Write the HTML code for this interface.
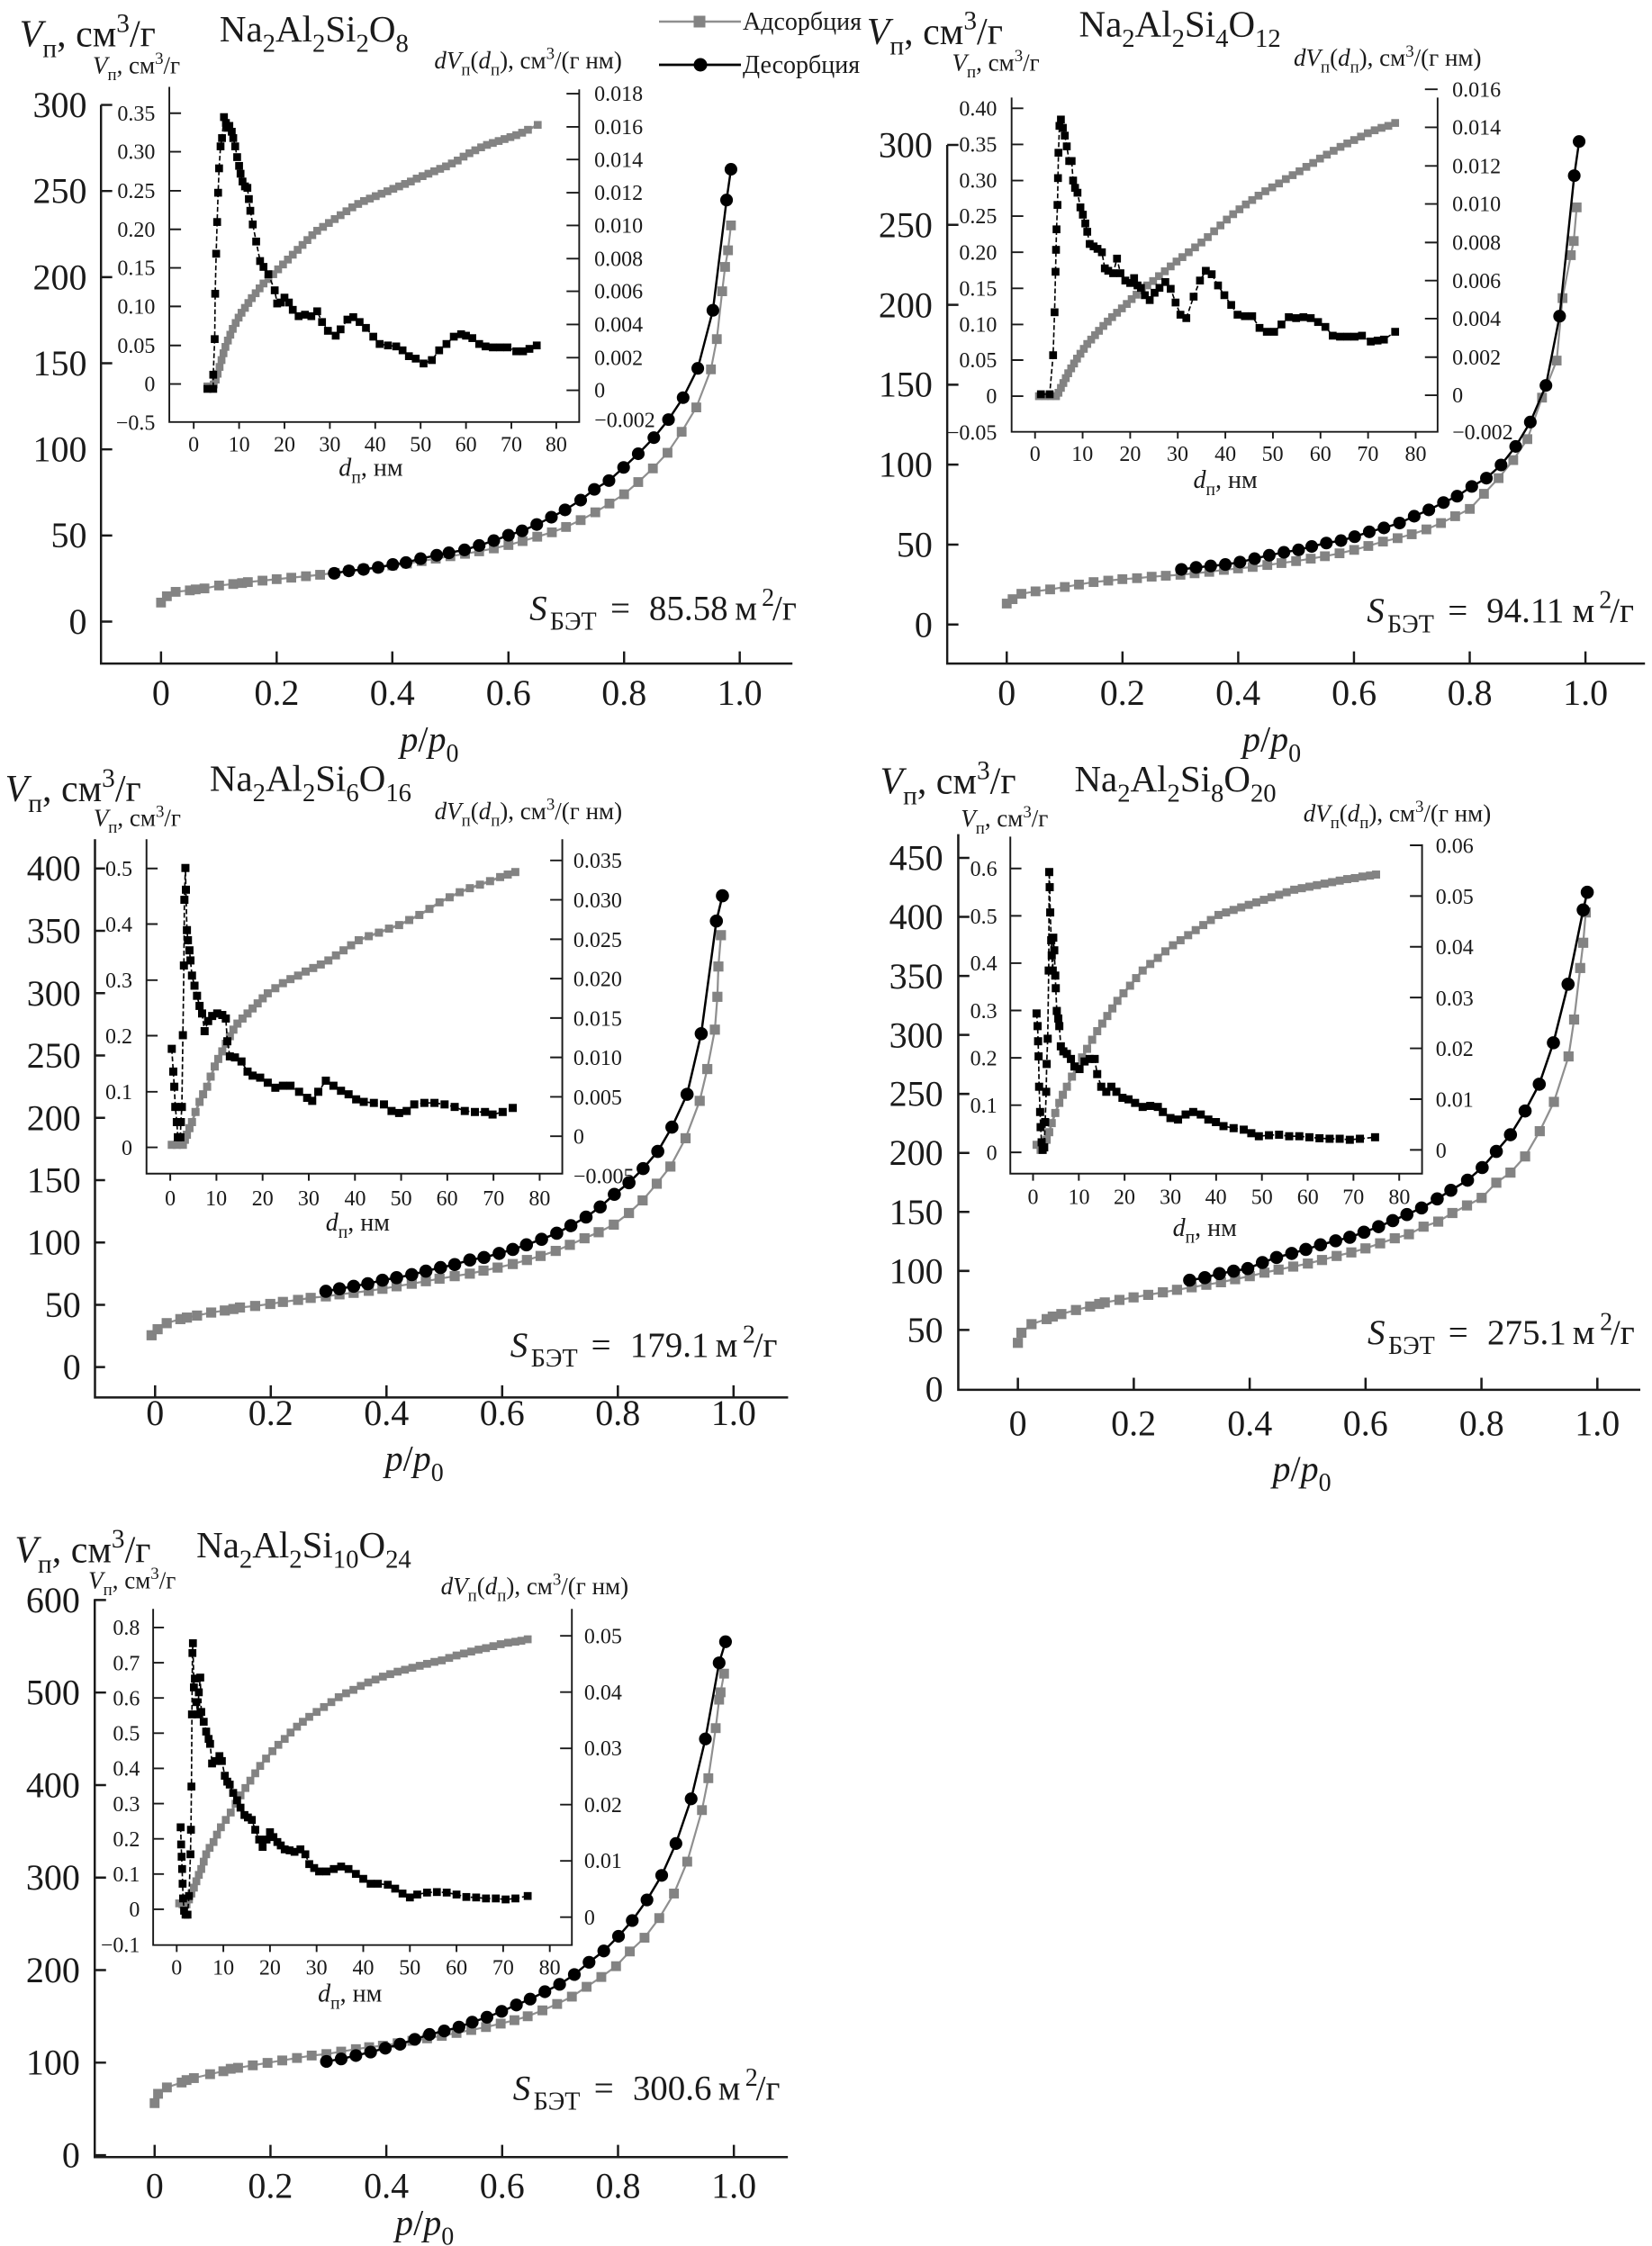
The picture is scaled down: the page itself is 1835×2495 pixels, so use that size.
<!DOCTYPE html>
<html><head><meta charset="utf-8"><style>
html,body{margin:0;padding:0;background:#fff;}
body{width:1835px;height:2495px;overflow:hidden;}
svg{display:block;font-family:"Liberation Serif","DejaVu Serif",serif;}
text,tspan{font-family:"Liberation Serif","DejaVu Serif",serif;}
.ax{fill:none;stroke:#1a1a1a;stroke-width:4.5;}
.iax{fill:none;stroke:#1a1a1a;stroke-width:3.5;}
.ga{fill:none;stroke:#8f8f8f;stroke-width:4;marker-start:url(#mg);marker-mid:url(#mg);marker-end:url(#mg);}
.bd{fill:none;stroke:#000;stroke-width:4.5;marker-start:url(#mb);marker-mid:url(#mb);marker-end:url(#mb);}
.ig{fill:none;stroke:#8f8f8f;stroke-width:5;marker-start:url(#gi);marker-mid:url(#gi);marker-end:url(#gi);}
.ib{fill:none;stroke:#000;stroke-width:3;stroke-dasharray:10 5;marker-start:url(#bi);marker-mid:url(#bi);marker-end:url(#bi);}
text{fill:#1a1a1a;}
.e{text-anchor:end;}
.m{text-anchor:middle;}
.i{font-style:italic;}
</style></head><body>
<svg width="1835" height="2495" viewBox="0 0 1835 2495" xmlns="http://www.w3.org/2000/svg" font-family="Liberation Serif, DejaVu Serif, serif">
<defs>
<marker id="mg" markerUnits="userSpaceOnUse" markerWidth="20" markerHeight="20" refX="10" refY="10" overflow="visible"><rect x="0" y="0" width="20" height="20" fill="#838383"/></marker>
<marker id="mb" markerUnits="userSpaceOnUse" markerWidth="28" markerHeight="28" refX="14" refY="14" overflow="visible"><circle cx="14" cy="14" r="13" fill="#000"/></marker>
<marker id="gi" markerUnits="userSpaceOnUse" markerWidth="16" markerHeight="16" refX="8" refY="8" overflow="visible"><rect x="0" y="0" width="16" height="16" fill="#838383"/></marker>
<marker id="bi" markerUnits="userSpaceOnUse" markerWidth="16" markerHeight="16" refX="8" refY="8" overflow="visible"><rect x="0" y="0" width="16" height="16" fill="#000"/></marker>
</defs>

<!-- Legend -->
<line x1="732" y1="24" x2="823" y2="24" stroke="#8f8f8f" stroke-width="2.5"/>
<rect x="770.5" y="17.5" width="13" height="13" fill="#838383"/>
<text x="825" y="33" font-size="28">Адсорбция</text>
<line x1="732" y1="72" x2="823" y2="72" stroke="#000" stroke-width="2.8"/>
<circle cx="778" cy="72" r="7.5" fill="#000"/>
<text x="825" y="81" font-size="28">Десорбция</text>

<!-- ================= PANEL 1 ================= -->
<g transform="scale(0.54201)">
<text x="40" y="95" font-size="77.5"><tspan class="i">V</tspan><tspan font-size="70%" dy="0.4em">п</tspan><tspan dy="-0.28em">, см</tspan><tspan font-size="70%" dy="-0.55em">3</tspan><tspan dy="0.385em">/г</tspan></text>
<text x="450" y="85" font-size="75.6">Na<tspan font-size="70%" dy="0.4em">2</tspan><tspan dy="-0.28em">Al</tspan><tspan font-size="70%" dy="0.4em">2</tspan><tspan dy="-0.28em">Si</tspan><tspan font-size="70%" dy="0.4em">2</tspan><tspan dy="-0.28em">O</tspan><tspan font-size="70%" dy="0.4em">8</tspan></text>
<path class="ax" d="M207,215V1360H1624"/>
<path class="ax" d="M207,215h23M207,391.5h23M207,568h23M207,744.5h23M207,921h23M207,1097.5h23M207,1274h23M330,1360v-25M567,1360v-25M804,1360v-25M1042,1360v-25M1279,1360v-25M1516,1360v-25"/>
<g font-size="73.8" class="e"><text x="178" y="240">300</text><text x="178" y="416">250</text><text x="178" y="593">200</text><text x="178" y="769">150</text><text x="178" y="946">100</text><text x="178" y="1122">50</text><text x="178" y="1299">0</text></g>
<g font-size="73.8" class="m"><text x="330" y="1445">0</text><text x="567" y="1445">0.2</text><text x="804" y="1445">0.4</text><text x="1042" y="1445">0.6</text><text x="1279" y="1445">0.8</text><text x="1516" y="1445">1.0</text></g>
<text x="880" y="1540" font-size="73.8" class="m"><tspan class="i">p</tspan>/<tspan class="i">p</tspan><tspan font-size="70%" dy="0.4em">0</tspan></text>
<!-- inset -->
<path class="iax" d="M347,178V865H1187V183"/>
<path class="iax" d="M347,232h24M347,311h24M347,391h24M347,470h24M347,549h24M347,628h24M347,708h24M347,787h24M1161,192h26M1161,260h26M1161,327h26M1161,395h26M1161,462h26M1161,530h26M1161,597h26M1161,665h26M1161,733h26M1161,800h26M397,865v14M490,865v14M583,865v14M676,865v14M769,865v14M862,865v14M955,865v14M1048,865v14M1140,865v14"/>
<g font-size="44.3" class="e"><text x="318" y="247">0.35</text><text x="318" y="326">0.30</text><text x="318" y="406">0.25</text><text x="318" y="485">0.20</text><text x="318" y="564">0.15</text><text x="318" y="643">0.10</text><text x="318" y="723">0.05</text><text x="318" y="802">0</text><text x="318" y="881">−0.5</text></g>
<g font-size="44.3"><text x="1218" y="207">0.018</text><text x="1218" y="275">0.016</text><text x="1218" y="342">0.014</text><text x="1218" y="410">0.012</text><text x="1218" y="477">0.010</text><text x="1218" y="545">0.008</text><text x="1218" y="612">0.006</text><text x="1218" y="680">0.004</text><text x="1218" y="748">0.002</text><text x="1218" y="815">0</text><text x="1218" y="875">−0.002</text></g>
<g font-size="44.3" class="m"><text x="397" y="925">0</text><text x="490" y="925">10</text><text x="583" y="925">20</text><text x="676" y="925">30</text><text x="769" y="925">40</text><text x="862" y="925">50</text><text x="955" y="925">60</text><text x="1048" y="925">70</text><text x="1140" y="925">80</text></g>
<text x="760" y="975" font-size="51.7" class="m"><tspan class="i">d</tspan><tspan font-size="70%" dy="0.4em">п</tspan><tspan dy="-0.28em">, нм</tspan></text>
<text x="190" y="150" font-size="49.8"><tspan class="i">V</tspan><tspan font-size="70%" dy="0.4em">п</tspan><tspan dy="-0.28em">, см</tspan><tspan font-size="70%" dy="-0.55em">3</tspan><tspan dy="0.385em">/г</tspan></text>
<text x="890" y="140" font-size="49.8"><tspan class="i">dV</tspan><tspan font-size="70%" dy="0.4em">п</tspan><tspan dy="-0.28em">(</tspan><tspan class="i">d</tspan><tspan font-size="70%" dy="0.4em">п</tspan><tspan dy="-0.28em">), см</tspan><tspan font-size="70%" dy="-0.55em">3</tspan><tspan dy="0.385em">/(г нм)</tspan></text>
<polyline class="ig" points="425,792 432,792 438,788 442,778 446,766 450,752 454,738 458,724 462,711 467,698 472,686 477,674 483,662 489,651 495,641 502,631 509,621 516,611 524,601 532,591 540,581 550,572 560,562 570,552 580,542 590,532 600,522 610,512 620,502 630,492 640,482 650,473 662,465 674,457 686,449 698,441 710,433 722,425 734,418 746,412 758,407 770,402 782,397 794,392 806,387 818,382 830,377 842,372 854,366 866,361 878,356 890,351 902,346 914,341 926,335 938,329 950,321 962,314 974,308 986,302 998,297 1010,293 1022,289 1034,285 1046,281 1058,277 1070,272 1082,266 1102,256"/>
<polyline class="ib" points="425,797 437,797 437,768 440,695 441,602 443,520 445,455 447,395 449,345 452,300 455,283 459,240 463,252 466,262 470,258 475,270 478,283 482,300 486,322 490,340 493,356 497,372 502,382 507,385 510,408 513,432 518,460 525,495 533,535 540,547 550,562 563,595 568,622 575,620 583,610 592,620 600,635 612,648 625,645 638,648 650,638 660,660 672,678 688,688 698,675 712,655 724,650 737,660 750,672 765,690 778,705 795,708 812,710 825,718 838,730 852,735 868,745 885,738 900,718 915,705 930,690 945,685 955,688 968,693 982,705 995,710 1010,712 1025,712 1040,712 1058,720 1072,720 1085,715 1100,708"/>
<!-- main data -->
<polyline class="ga" points="330,1235 342,1222 360,1213 389,1210 401,1208 419,1206 449,1200 478,1197 496,1195 508,1193 538,1190 567,1187 597,1184 627,1181 656,1178 686,1174 715,1170 745,1166 775,1163 804,1159 834,1155 864,1150 893,1145 923,1140 953,1135 982,1130 1012,1124 1042,1117 1071,1109 1101,1100 1131,1091 1160,1080 1190,1066 1220,1050 1249,1032 1279,1013 1308,988 1338,960 1368,928 1397,885 1427,835 1457,757 1469,695 1480,597 1486,547 1492,513 1498,462"/>
<polyline class="bd" points="1498,347 1489,410 1461,636 1430,755 1400,815 1370,860 1340,897 1308,930 1278,958 1248,985 1218,1003 1190,1025 1158,1045 1130,1060 1100,1075 1070,1088 1042,1097 1012,1108 982,1118 952,1127 920,1133 895,1138 862,1145 832,1153 805,1157 775,1163 745,1167 715,1170 685,1175"/>
<text x="1085" y="1270" font-size="72"><tspan class="i">S</tspan><tspan x="1127" font-size="72%" dy="0.4em">БЭТ</tspan><tspan x="1251" dy="-0.29em">=</tspan><tspan x="1330">85.58</tspan><tspan x="1506">м</tspan><tspan x="1561" font-size="72%" dy="-0.55em">2</tspan><tspan x="1583" dy="0.4em">/г</tspan></text>
</g>

<!-- ================= PANEL 2 ================= -->
<g transform="translate(960,0) scale(0.54201)">
<text x="5" y="90" font-size="77.5"><tspan class="i">V</tspan><tspan font-size="70%" dy="0.4em">п</tspan><tspan dy="-0.28em">, см</tspan><tspan font-size="70%" dy="-0.55em">3</tspan><tspan dy="0.385em">/г</tspan></text>
<text x="440" y="75" font-size="75.6">Na<tspan font-size="70%" dy="0.4em">2</tspan><tspan dy="-0.28em">Al</tspan><tspan font-size="70%" dy="0.4em">2</tspan><tspan dy="-0.28em">Si</tspan><tspan font-size="70%" dy="0.4em">4</tspan><tspan dy="-0.28em">O</tspan><tspan font-size="70%" dy="0.4em">12</tspan></text>
<path class="ax" d="M170,297V1360H1600"/>
<path class="ax" d="M170,297h23M170,460.8h23M170,624.7h23M170,788.5h23M170,952.3h23M170,1116.2h23M170,1280h23M292,1360v-25M529.2,1360v-25M766.4,1360v-25M1003.6,1360v-25M1240.8,1360v-25M1478,1360v-25"/>
<g font-size="73.8" class="e"><text x="140" y="322">300</text><text x="140" y="486">250</text><text x="140" y="650">200</text><text x="140" y="813">150</text><text x="140" y="977">100</text><text x="140" y="1141">50</text><text x="140" y="1305">0</text></g>
<g font-size="73.8" class="m"><text x="292" y="1445">0</text><text x="529" y="1445">0.2</text><text x="766" y="1445">0.4</text><text x="1004" y="1445">0.6</text><text x="1241" y="1445">0.8</text><text x="1478" y="1445">1.0</text></g>
<text x="835" y="1540" font-size="73.8" class="m"><tspan class="i">p</tspan>/<tspan class="i">p</tspan><tspan font-size="70%" dy="0.4em">0</tspan></text>
<path class="iax" d="M302,200V885H1175V200"/>
<path class="iax" d="M302,222h24M302,296h24M302,370h24M302,443h24M302,517h24M302,591h24M302,665h24M302,738h24M302,812h24M1149,183h26M1149,261h26M1149,340h26M1149,418h26M1149,497h26M1149,575h26M1149,653h26M1149,732h26M1149,810h26M350,885v14M447.5,885v14M545,885v14M642.5,885v14M740,885v14M837.5,885v14M935,885v14M1032.5,885v14M1130,885v14"/>
<g font-size="44.3" class="e"><text x="272" y="237">0.40</text><text x="272" y="311">0.35</text><text x="272" y="385">0.30</text><text x="272" y="458">0.25</text><text x="272" y="532">0.20</text><text x="272" y="606">0.15</text><text x="272" y="680">0.10</text><text x="272" y="753">0.05</text><text x="272" y="827">0</text><text x="272" y="901">−0.05</text></g>
<g font-size="44.3"><text x="1205" y="198">0.016</text><text x="1205" y="276">0.014</text><text x="1205" y="355">0.012</text><text x="1205" y="433">0.010</text><text x="1205" y="512">0.008</text><text x="1205" y="590">0.006</text><text x="1205" y="668">0.004</text><text x="1205" y="747">0.002</text><text x="1205" y="825">0</text><text x="1205" y="900">−0.002</text></g>
<g font-size="44.3" class="m"><text x="350" y="945">0</text><text x="447" y="945">10</text><text x="545" y="945">20</text><text x="642" y="945">30</text><text x="740" y="945">40</text><text x="837" y="945">50</text><text x="935" y="945">60</text><text x="1032" y="945">70</text><text x="1130" y="945">80</text></g>
<text x="740" y="1000" font-size="51.7" class="m"><tspan class="i">d</tspan><tspan font-size="70%" dy="0.4em">п</tspan><tspan dy="-0.28em">, нм</tspan></text>
<text x="180" y="145" font-size="49.8"><tspan class="i">V</tspan><tspan font-size="70%" dy="0.4em">п</tspan><tspan dy="-0.28em">, см</tspan><tspan font-size="70%" dy="-0.55em">3</tspan><tspan dy="0.385em">/г</tspan></text>
<text x="880" y="135" font-size="49.8"><tspan class="i">dV</tspan><tspan font-size="70%" dy="0.4em">п</tspan><tspan dy="-0.28em">(</tspan><tspan class="i">d</tspan><tspan font-size="70%" dy="0.4em">п</tspan><tspan dy="-0.28em">), см</tspan><tspan font-size="70%" dy="-0.55em">3</tspan><tspan dy="0.385em">/(г нм)</tspan></text>
<polyline class="ig" points="358,812 370,812 382,812 393,812 398,805 403,795 408,785 413,775 418,765 424,755 430,745 436,735 443,725 450,715 457,705 465,696 473,687 481,678 490,668 499,659 508,650 518,641 528,632 538,623 548,613 558,604 569,595 580,585 592,576 604,566 616,556 628,546 640,536 652,527 665,517 678,507 691,497 704,486 717,474 730,462 743,450 756,439 769,429 782,419 795,410 808,401 822,392 836,384 850,376 864,367 878,359 892,351 906,342 920,334 934,325 948,317 962,309 976,301 990,294 1004,287 1018,280 1032,273 1046,267 1060,262 1074,258 1088,252"/>
<polyline class="ib" points="362,808 380,808 387,728 390,640 392,557 393,512 394,470 396,420 397,365 398,313 400,258 403,245 407,262 411,278 415,300 420,330 425,330 428,370 432,385 437,395 443,425 448,440 453,458 457,475 462,500 470,505 478,510 487,517 493,550 500,555 510,560 518,530 525,560 535,575 545,580 553,570 560,585 567,590 575,605 585,615 595,600 605,590 617,578 628,592 638,620 648,645 660,652 675,608 688,575 700,555 712,562 725,585 738,605 752,625 765,645 780,648 795,648 810,672 825,680 840,680 855,665 870,650 885,652 900,650 915,652 930,660 945,670 960,688 975,690 990,690 1005,690 1020,688 1038,700 1052,698 1065,696 1088,680"/>
<polyline class="ga" points="292,1237 304,1228 322,1217 351,1212 381,1208 411,1203 440,1198 470,1193 500,1190 529,1187 559,1185 589,1182 618,1180 648,1178 677,1175 707,1172 737,1168 766,1165 796,1162 826,1158 855,1154 885,1150 915,1145 944,1140 974,1134 1004,1127 1033,1119 1063,1110 1093,1103 1122,1095 1152,1085 1182,1072 1211,1058 1241,1043 1270,1012 1300,980 1330,943 1359,900 1389,815 1419,739 1431,611 1448,523 1454,494 1460,425"/>
<polyline class="bd" points="1465,290 1455,360 1425,648 1397,790 1365,865 1335,915 1305,953 1275,980 1245,997 1215,1017 1187,1030 1157,1045 1127,1058 1097,1072 1065,1082 1035,1090 1005,1100 977,1108 947,1113 917,1120 890,1127 860,1132 830,1138 800,1145 770,1152 740,1157 710,1160 680,1163 650,1167"/>
<text x="1030" y="1275" font-size="72"><tspan class="i">S</tspan><tspan x="1072" font-size="72%" dy="0.4em">БЭТ</tspan><tspan x="1196" dy="-0.29em">=</tspan><tspan x="1275">94.11</tspan><tspan x="1451">м</tspan><tspan x="1506" font-size="72%" dy="-0.55em">2</tspan><tspan x="1528" dy="0.4em">/г</tspan></text>
</g>

<!-- ================= PANEL 3 ================= -->
<g transform="translate(0,820) scale(0.56117)">
<text x="10" y="125" font-size="74.8"><tspan class="i">V</tspan><tspan font-size="70%" dy="0.4em">п</tspan><tspan dy="-0.28em">, см</tspan><tspan font-size="70%" dy="-0.55em">3</tspan><tspan dy="0.385em">/г</tspan></text>
<text x="415" y="104" font-size="73">Na<tspan font-size="70%" dy="0.4em">2</tspan><tspan dy="-0.28em">Al</tspan><tspan font-size="70%" dy="0.4em">2</tspan><tspan dy="-0.28em">Si</tspan><tspan font-size="70%" dy="0.4em">6</tspan><tspan dy="-0.28em">O</tspan><tspan font-size="70%" dy="0.4em">16</tspan></text>
<path class="ax" d="M188,200V1305H1560"/>
<path class="ax" d="M188,258h20M188,381.4h20M188,504.8h20M188,628.2h20M188,751.6h20M188,875h20M188,998.4h20M188,1121.8h20M188,1245h20M307,1305v-24M536,1305v-24M765,1305v-24M994,1305v-24M1223,1305v-24M1452,1305v-24"/>
<g font-size="71.3" class="e"><text x="160" y="282">400</text><text x="160" y="405">350</text><text x="160" y="529">300</text><text x="160" y="652">250</text><text x="160" y="776">200</text><text x="160" y="899">150</text><text x="160" y="1022">100</text><text x="160" y="1146">50</text><text x="160" y="1269">0</text></g>
<g font-size="71.3" class="m"><text x="307" y="1360">0</text><text x="536" y="1360">0.2</text><text x="765" y="1360">0.4</text><text x="994" y="1360">0.6</text><text x="1223" y="1360">0.8</text><text x="1452" y="1360">1.0</text></g>
<text x="820" y="1450" font-size="71.3" class="m"><tspan class="i">p</tspan>/<tspan class="i">p</tspan><tspan font-size="70%" dy="0.4em">0</tspan></text>
<path class="iax" d="M290,200V862H1113V200"/>
<path class="iax" d="M290,258h22M290,368h22M290,479h22M290,589h22M290,700h22M290,810h22M1089,242h24M1089,320h24M1089,398h24M1089,476h24M1089,554h24M1089,632h24M1089,710h24M1089,788h24M337,862v14M428.4,862v14M519.8,862v14M611.2,862v14M702.6,862v14M794,862v14M885.4,862v14M976.8,862v14M1068.2,862v14"/>
<g font-size="42.8" class="e"><text x="262" y="273">0.5</text><text x="262" y="383">0.4</text><text x="262" y="494">0.3</text><text x="262" y="604">0.2</text><text x="262" y="715">0.1</text><text x="262" y="825">0</text></g>
<g font-size="42.8"><text x="1135" y="257">0.035</text><text x="1135" y="335">0.030</text><text x="1135" y="413">0.025</text><text x="1135" y="491">0.020</text><text x="1135" y="569">0.015</text><text x="1135" y="647">0.010</text><text x="1135" y="725">0.005</text><text x="1135" y="803">0</text><text x="1135" y="881">−0.005</text></g>
<g font-size="42.8" class="m"><text x="337" y="925">0</text><text x="428" y="925">10</text><text x="520" y="925">20</text><text x="611" y="925">30</text><text x="703" y="925">40</text><text x="794" y="925">50</text><text x="885" y="925">60</text><text x="977" y="925">70</text><text x="1068" y="925">80</text></g>
<text x="708" y="975" font-size="49.9" class="m"><tspan class="i">d</tspan><tspan font-size="70%" dy="0.4em">п</tspan><tspan dy="-0.28em">, нм</tspan></text>
<text x="185" y="174" font-size="48.1"><tspan class="i">V</tspan><tspan font-size="70%" dy="0.4em">п</tspan><tspan dy="-0.28em">, см</tspan><tspan font-size="70%" dy="-0.55em">3</tspan><tspan dy="0.385em">/г</tspan></text>
<text x="860" y="160" font-size="48.1"><tspan class="i">dV</tspan><tspan font-size="70%" dy="0.4em">п</tspan><tspan dy="-0.28em">(</tspan><tspan class="i">d</tspan><tspan font-size="70%" dy="0.4em">п</tspan><tspan dy="-0.28em">), см</tspan><tspan font-size="70%" dy="-0.55em">3</tspan><tspan dy="0.385em">/(г нм)</tspan></text>
<polyline class="ig" points="340,805 350,805 362,805 366,795 370,785 375,772 380,760 387,740 395,720 402,705 410,690 417,670 425,650 432,635 440,620 447,605 455,590 462,577 470,565 480,555 490,545 500,535 510,525 520,515 530,505 545,495 560,485 575,477 590,470 605,462 620,455 635,448 650,440 665,430 680,420 695,410 710,400 730,392 750,385 770,377 790,370 810,360 830,350 850,338 870,325 890,315 910,305 930,297 950,290 970,283 990,275 1005,270 1020,265"/>
<polyline class="ib" points="340,615 343,660 345,690 347,730 350,760 352,790 357,790 358,760 360,730 362,588 364,450 365,320 367,257 368,300 370,380 372,400 375,420 377,440 380,470 385,490 390,510 395,530 400,545 405,580 412,560 420,550 430,545 440,548 447,555 450,600 455,630 465,632 478,640 490,660 500,668 515,672 530,682 545,692 560,688 575,688 592,700 608,712 618,718 630,700 645,678 660,688 675,698 690,705 705,715 720,720 740,722 760,725 775,738 790,742 805,738 820,725 840,722 860,722 880,725 900,730 920,738 940,740 960,740 975,745 995,740 1015,732"/>
<polyline class="ga" points="300,1182 312,1170 330,1158 357,1150 370,1147 390,1143 418,1137 445,1133 462,1130 475,1127 505,1124 535,1120 560,1116 590,1112 615,1108 645,1105 672,1101 700,1098 730,1094 757,1090 785,1085 815,1080 843,1075 870,1070 900,1065 930,1060 957,1054 985,1048 1015,1041 1043,1033 1070,1025 1100,1015 1128,1003 1157,990 1185,978 1215,963 1245,940 1272,915 1300,882 1327,848 1357,792 1385,718 1400,655 1415,577 1420,512 1422,452 1427,390"/>
<polyline class="bd" points="1430,312 1418,362 1388,585 1360,705 1330,770 1302,818 1273,852 1245,880 1216,903 1188,928 1160,948 1130,965 1102,980 1072,992 1042,1003 1015,1012 988,1020 958,1028 930,1033 900,1042 872,1048 843,1055 815,1062 785,1068 757,1073 728,1080 700,1085 672,1090 645,1095"/>
<text x="1010" y="1224" font-size="69.5"><tspan class="i">S</tspan><tspan x="1051" font-size="72%" dy="0.4em">БЭТ</tspan><tspan x="1170" dy="-0.29em">=</tspan><tspan x="1247">179.1</tspan><tspan x="1416">м</tspan><tspan x="1470" font-size="72%" dy="-0.55em">2</tspan><tspan x="1491" dy="0.4em">/г</tspan></text>
</g>

<!-- ================= PANEL 4 ================= -->
<g transform="translate(955,820) scale(0.56117)">
<text x="40" y="110" font-size="74.8"><tspan class="i">V</tspan><tspan font-size="70%" dy="0.4em">п</tspan><tspan dy="-0.28em">, см</tspan><tspan font-size="70%" dy="-0.55em">3</tspan><tspan dy="0.385em">/г</tspan></text>
<text x="425" y="105" font-size="73">Na<tspan font-size="70%" dy="0.4em">2</tspan><tspan dy="-0.28em">Al</tspan><tspan font-size="70%" dy="0.4em">2</tspan><tspan dy="-0.28em">Si</tspan><tspan font-size="70%" dy="0.4em">8</tspan><tspan dy="-0.28em">O</tspan><tspan font-size="70%" dy="0.4em">20</tspan></text>
<path class="ax" d="M195,190V1290H1545"/>
<path class="ax" d="M195,237h22M195,353.8h22M195,470.6h22M195,587.4h22M195,704.2h22M195,821h22M195,937.8h22M195,1054.6h22M195,1171.4h22M313,1290v-24M542.4,1290v-24M771.8,1290v-24M1001.2,1290v-24M1230.6,1290v-24M1460,1290v-24"/>
<g font-size="71.3" class="e"><text x="165" y="261">450</text><text x="165" y="378">400</text><text x="165" y="495">350</text><text x="165" y="612">300</text><text x="165" y="728">250</text><text x="165" y="845">200</text><text x="165" y="962">150</text><text x="165" y="1079">100</text><text x="165" y="1196">50</text><text x="165" y="1312">0</text></g>
<g font-size="71.3" class="m"><text x="313" y="1380">0</text><text x="542" y="1380">0.2</text><text x="772" y="1380">0.4</text><text x="1001" y="1380">0.6</text><text x="1231" y="1380">0.8</text><text x="1460" y="1380">1.0</text></g>
<text x="875" y="1470" font-size="71.3" class="m"><tspan class="i">p</tspan>/<tspan class="i">p</tspan><tspan font-size="70%" dy="0.4em">0</tspan></text>
<path class="iax" d="M298,195V862H1113V210"/>
<path class="iax" d="M298,258h22M298,351.7h22M298,445.4h22M298,539h22M298,632.8h22M298,726.5h22M298,820h22M1089,212h24M1089,312.5h24M1089,413h24M1089,513.5h24M1089,614h24M1089,714.5h24M1089,815h24M343,862v14M433.6,862v14M524.2,862v14M614.8,862v14M705.4,862v14M796,862v14M886.6,862v14M977.2,862v14M1067.8,862v14"/>
<g font-size="42.8" class="e"><text x="272" y="273">0.6</text><text x="272" y="367">0.5</text><text x="272" y="460">0.4</text><text x="272" y="554">0.3</text><text x="272" y="648">0.2</text><text x="272" y="741">0.1</text><text x="272" y="835">0</text></g>
<g font-size="42.8"><text x="1140" y="227">0.06</text><text x="1140" y="328">0.05</text><text x="1140" y="428">0.04</text><text x="1140" y="529">0.03</text><text x="1140" y="629">0.02</text><text x="1140" y="730">0.01</text><text x="1140" y="830">0</text></g>
<g font-size="42.8" class="m"><text x="343" y="922">0</text><text x="434" y="922">10</text><text x="524" y="922">20</text><text x="615" y="922">30</text><text x="705" y="922">40</text><text x="796" y="922">50</text><text x="887" y="922">60</text><text x="977" y="922">70</text><text x="1068" y="922">80</text></g>
<text x="683" y="985" font-size="49.9" class="m"><tspan class="i">d</tspan><tspan font-size="70%" dy="0.4em">п</tspan><tspan dy="-0.28em">, нм</tspan></text>
<text x="200" y="175" font-size="48.1"><tspan class="i">V</tspan><tspan font-size="70%" dy="0.4em">п</tspan><tspan dy="-0.28em">, см</tspan><tspan font-size="70%" dy="-0.55em">3</tspan><tspan dy="0.385em">/г</tspan></text>
<text x="878" y="165" font-size="48.1"><tspan class="i">dV</tspan><tspan font-size="70%" dy="0.4em">п</tspan><tspan dy="-0.28em">(</tspan><tspan class="i">d</tspan><tspan font-size="70%" dy="0.4em">п</tspan><tspan dy="-0.28em">), см</tspan><tspan font-size="70%" dy="-0.55em">3</tspan><tspan dy="0.385em">/(г нм)</tspan></text>
<polyline class="ig" points="350,805 358,815 365,810 370,795 375,780 380,762 387,742 395,722 402,706 410,690 420,670 430,650 440,632 450,615 460,597 470,580 480,565 490,550 500,535 510,520 522,505 535,490 547,475 560,460 575,447 590,435 605,422 620,410 635,400 650,390 665,380 680,370 695,360 710,350 725,345 740,340 755,335 770,330 785,325 800,320 815,315 830,310 845,305 860,300 875,297 890,294 905,291 920,288 935,285 950,282 965,279 980,277 995,274 1010,272 1022,270"/>
<polyline class="ib" points="350,545 352,570 353,600 354,630 355,690 357,740 358,770 360,800 362,815 365,810 367,760 369,700 370,645 372,595 374,460 375,265 376,295 377,345 379,400 380,430 382,460 383,395 385,420 387,470 388,495 390,540 393,555 395,570 398,610 403,620 410,625 418,635 425,650 435,655 445,640 455,635 465,635 470,665 478,690 488,700 498,690 508,700 520,712 532,715 545,722 560,730 575,728 590,730 600,740 615,752 630,755 645,745 660,740 675,745 690,755 705,760 720,768 740,772 760,775 775,782 790,788 810,786 830,785 850,788 870,788 890,790 910,792 930,793 950,793 970,795 990,793 1020,790"/>
<polyline class="ga" points="313,1197 320,1177 340,1160 370,1150 382,1145 399,1140 428,1132 456,1125 474,1120 485,1117 514,1112 542,1107 571,1102 600,1097 628,1092 657,1087 686,1082 715,1077 743,1071 772,1065 801,1058 829,1052 858,1046 887,1040 915,1033 944,1025 973,1018 1001,1010 1030,1000 1059,990 1087,982 1116,967 1145,957 1173,940 1202,925 1231,910 1260,880 1288,860 1317,828 1346,778 1374,720 1403,630 1414,557 1426,455 1432,405 1437,345"/>
<polyline class="bd" points="1440,305 1432,340 1402,487 1373,603 1345,685 1317,738 1288,785 1260,818 1232,850 1203,875 1170,895 1143,912 1112,930 1083,943 1055,955 1027,967 998,978 970,988 942,995 912,1003 883,1012 855,1020 825,1028 797,1038 768,1050 740,1055 712,1060 683,1068 653,1073"/>
<text x="1005" y="1199" font-size="69.5"><tspan class="i">S</tspan><tspan x="1046" font-size="72%" dy="0.4em">БЭТ</tspan><tspan x="1165" dy="-0.29em">=</tspan><tspan x="1242">275.1</tspan><tspan x="1411">м</tspan><tspan x="1465" font-size="72%" dy="-0.55em">2</tspan><tspan x="1486" dy="0.4em">/г</tspan></text>
</g>

<!-- ================= PANEL 5 ================= -->
<g transform="translate(0,1640) scale(0.54526)">
<text x="30" y="175" font-size="77"><tspan class="i">V</tspan><tspan font-size="70%" dy="0.4em">п</tspan><tspan dy="-0.28em">, см</tspan><tspan font-size="70%" dy="-0.55em">3</tspan><tspan dy="0.385em">/г</tspan></text>
<text x="400" y="165" font-size="75.2">Na<tspan font-size="70%" dy="0.4em">2</tspan><tspan dy="-0.28em">Al</tspan><tspan font-size="70%" dy="0.4em">2</tspan><tspan dy="-0.28em">Si</tspan><tspan font-size="70%" dy="0.4em">10</tspan><tspan dy="-0.28em">O</tspan><tspan font-size="70%" dy="0.4em">24</tspan></text>
<path class="ax" d="M193,250V1387H1605"/>
<path class="ax" d="M193,252h23M193,440.5h23M193,629h23M193,817.5h23M193,1006h23M193,1194.5h23M193,1383h23M315,1387v-25M551,1387v-25M787,1387v-25M1023,1387v-25M1259,1387v-25M1495,1387v-25"/>
<g font-size="73.4" class="e"><text x="163" y="277">600</text><text x="163" y="465">500</text><text x="163" y="654">400</text><text x="163" y="842">300</text><text x="163" y="1031">200</text><text x="163" y="1219">100</text><text x="163" y="1408">0</text></g>
<g font-size="73.4" class="m"><text x="315" y="1470">0</text><text x="551" y="1470">0.2</text><text x="787" y="1470">0.4</text><text x="1023" y="1470">0.6</text><text x="1259" y="1470">0.8</text><text x="1495" y="1470">1.0</text></g>
<text x="865" y="1545" font-size="73.4" class="m"><tspan class="i">p</tspan>/<tspan class="i">p</tspan><tspan font-size="70%" dy="0.4em">0</tspan></text>
<path class="iax" d="M312,270V955H1165V270"/>
<path class="iax" d="M312,308h22M312,379.75h22M312,451.5h22M312,523.25h22M312,595h22M312,666.75h22M312,738.5h22M312,810.25h22M312,882h22M1141,325h24M1141,439.6h24M1141,554.2h24M1141,668.8h24M1141,783.4h24M1141,898h24M360,955v14M455,955v14M550,955v14M645,955v14M740,955v14M835,955v14M930,955v14M1025,955v14M1120,955v14"/>
<g font-size="44" class="e"><text x="285" y="323">0.8</text><text x="285" y="395">0.7</text><text x="285" y="467">0.6</text><text x="285" y="538">0.5</text><text x="285" y="610">0.4</text><text x="285" y="682">0.3</text><text x="285" y="754">0.2</text><text x="285" y="825">0.1</text><text x="285" y="897">0</text><text x="285" y="969">−0.1</text></g>
<g font-size="44"><text x="1190" y="340">0.05</text><text x="1190" y="455">0.04</text><text x="1190" y="569">0.03</text><text x="1190" y="684">0.02</text><text x="1190" y="798">0.01</text><text x="1190" y="913">0</text></g>
<g font-size="44" class="m"><text x="360" y="1015">0</text><text x="455" y="1015">10</text><text x="550" y="1015">20</text><text x="645" y="1015">30</text><text x="740" y="1015">40</text><text x="835" y="1015">50</text><text x="930" y="1015">60</text><text x="1025" y="1015">70</text><text x="1120" y="1015">80</text></g>
<text x="713" y="1070" font-size="51.4" class="m"><tspan class="i">d</tspan><tspan font-size="70%" dy="0.4em">п</tspan><tspan dy="-0.28em">, нм</tspan></text>
<text x="180" y="228" font-size="49.5"><tspan class="i">V</tspan><tspan font-size="70%" dy="0.4em">п</tspan><tspan dy="-0.28em">, см</tspan><tspan font-size="70%" dy="-0.55em">3</tspan><tspan dy="0.385em">/г</tspan></text>
<text x="898" y="240" font-size="49.5"><tspan class="i">dV</tspan><tspan font-size="70%" dy="0.4em">п</tspan><tspan dy="-0.28em">(</tspan><tspan class="i">d</tspan><tspan font-size="70%" dy="0.4em">п</tspan><tspan dy="-0.28em">), см</tspan><tspan font-size="70%" dy="-0.55em">3</tspan><tspan dy="0.385em">/(г нм)</tspan></text>
<polyline class="ig" points="365,870 372,872 380,872 385,862 390,850 395,838 400,825 405,812 410,800 415,785 420,770 427,757 435,745 442,730 450,715 460,700 470,685 480,667 490,650 500,635 510,620 520,605 530,590 542,575 555,560 567,547 580,535 592,522 605,510 617,500 630,490 645,480 660,470 675,460 690,450 705,442 720,435 735,427 750,420 765,414 780,408 795,403 810,398 825,394 840,390 855,386 870,382 885,378 900,375 915,370 930,365 945,361 960,357 975,353 990,350 1005,346 1020,342 1035,339 1050,337 1062,335 1075,332"/>
<polyline class="ib" points="368,715 369,750 370,775 371,800 372,830 373,860 375,885 378,893 382,893 385,855 388,770 389,720 390,632 391,485 392,360 393,340 395,430 397,412 400,460 403,485 405,440 408,410 410,480 415,500 420,520 425,535 428,545 432,585 440,580 447,570 452,580 458,610 463,622 468,628 475,645 483,660 490,675 498,690 505,695 513,700 520,720 528,740 535,755 543,740 550,725 557,735 565,745 572,752 580,760 590,762 600,765 612,760 622,770 630,790 640,798 650,805 665,805 680,800 695,795 710,800 725,810 740,820 755,830 770,830 790,832 805,840 820,850 835,858 850,852 870,848 890,847 910,848 930,852 950,857 970,858 990,860 1010,860 1030,862 1050,860 1075,855"/>
<polyline class="ga" points="315,1277 322,1258 340,1245 370,1235 380,1230 395,1226 428,1218 455,1212 470,1207 485,1205 515,1200 545,1195 575,1190 605,1185 635,1180 665,1177 695,1172 725,1167 752,1163 780,1160 810,1155 840,1150 870,1145 900,1140 930,1134 960,1128 990,1122 1020,1115 1048,1108 1075,1100 1105,1088 1135,1075 1165,1060 1195,1040 1225,1020 1255,998 1283,968 1313,940 1343,900 1373,850 1400,785 1430,680 1443,615 1458,513 1465,455 1468,440 1475,402"/>
<polyline class="bd" points="1478,337 1465,380 1437,535 1408,657 1377,748 1348,813 1318,863 1288,905 1260,937 1230,967 1200,990 1170,1015 1140,1035 1110,1050 1080,1065 1052,1077 1022,1090 992,1102 962,1112 935,1122 905,1130 875,1137 845,1147 815,1157 785,1165 755,1173 725,1180 695,1187 665,1192"/>
<text x="1045" y="1270" font-size="71.5"><tspan class="i">S</tspan><tspan x="1087" font-size="72%" dy="0.4em">БЭТ</tspan><tspan x="1210" dy="-0.29em">=</tspan><tspan x="1289">300.6</tspan><tspan x="1463">м</tspan><tspan x="1518" font-size="72%" dy="-0.55em">2</tspan><tspan x="1540" dy="0.4em">/г</tspan></text>
</g>
</svg>
</body></html>
